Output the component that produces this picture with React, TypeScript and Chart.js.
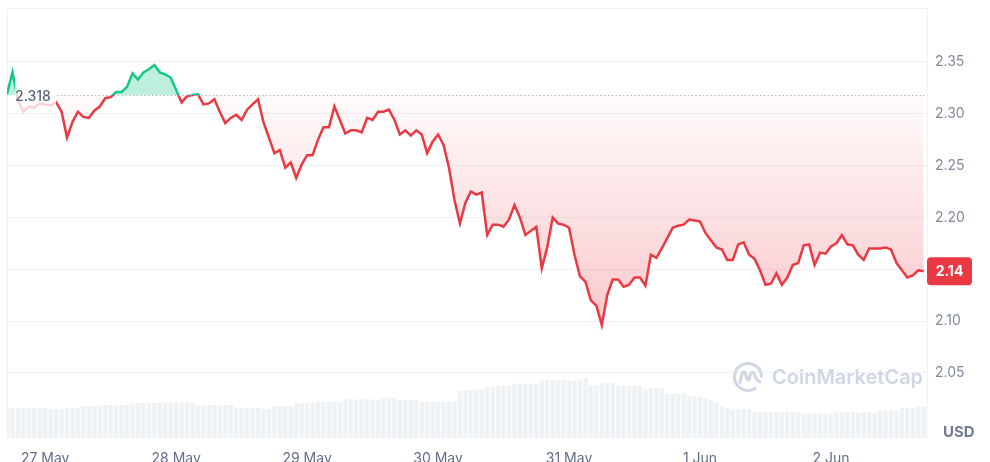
import { useEffect, useRef } from "react";
import { Chart, registerables } from "chart.js";

Chart.register(...registerables);

// ---- data ----
const DAY_LABELS = ["27 May", "28 May", "29 May", "30 May", "31 May", "1 Jun", "2 Jun"];
// hours since 26 May 17:00 at which each day starts
const DAY_TICK_HOURS = [7, 31, 55, 79, 103, 127, 151];
const PRICE_TICKS = [2.05, 2.1, 2.15, 2.2, 2.25, 2.3, 2.35];
const OPEN_PRICE = 2.318;
const LAST_PRICE_LABEL = "2.14";
const CURRENCY = "USD";
const WATERMARK = "CoinMarketCap";

// hourly price (USD)
const PRICE = [
  2.319, 2.340, 2.313, 2.302, 2.307, 2.306, 2.310, 2.309, 2.308, 2.311,
  2.302, 2.277, 2.292, 2.302, 2.297, 2.296, 2.303, 2.307, 2.315, 2.316,
  2.321, 2.321, 2.326, 2.339, 2.333, 2.340, 2.343, 2.347, 2.340, 2.338,
  2.335, 2.323, 2.311, 2.317, 2.318, 2.319, 2.309, 2.310, 2.314, 2.302,
  2.291, 2.296, 2.299, 2.294, 2.304, 2.309, 2.314, 2.292, 2.277, 2.262,
  2.265, 2.248, 2.253, 2.238, 2.251, 2.260, 2.260, 2.275, 2.287, 2.287,
  2.307, 2.294, 2.281, 2.284, 2.284, 2.282, 2.296, 2.294, 2.302, 2.302,
  2.304, 2.294, 2.280, 2.284, 2.279, 2.284, 2.280, 2.262, 2.273, 2.280,
  2.270, 2.248, 2.217, 2.194, 2.214, 2.225, 2.222, 2.224, 2.183, 2.193,
  2.193, 2.191, 2.198, 2.212, 2.200, 2.183, 2.187, 2.191, 2.151, 2.171,
  2.200, 2.194, 2.193, 2.190, 2.164, 2.143, 2.138, 2.120, 2.115, 2.096,
  2.125, 2.140, 2.140, 2.133, 2.135, 2.142, 2.142, 2.134, 2.164, 2.161,
  2.170, 2.180, 2.190, 2.192, 2.193, 2.198, 2.197, 2.196, 2.185, 2.178,
  2.171, 2.169, 2.159, 2.159, 2.174, 2.176, 2.164, 2.160, 2.149, 2.135,
  2.136, 2.146, 2.135, 2.142, 2.154, 2.156, 2.173, 2.174, 2.154, 2.166,
  2.165, 2.172, 2.175, 2.183, 2.174, 2.173, 2.164, 2.159, 2.170, 2.170,
  2.170, 2.171, 2.169, 2.156, 2.149, 2.142, 2.144, 2.149, 2.148,
];

// hourly 24h volume (millions USD)
const VOLUME_M = [
  300, 300, 300, 300, 300, 300, 300, 300, 290, 290,
  290, 300, 300, 300, 320, 320, 320, 320, 330, 330,
  330, 330, 330, 350, 350, 350, 350, 350, 350, 350,
  355, 355, 355, 355, 355, 330, 330, 330, 330, 330,
  330, 330, 300, 300, 300, 300, 300, 290, 290, 320,
  320, 320, 320, 347, 347, 347, 347, 363, 363, 363,
  363, 363, 387, 387, 387, 387, 387, 387, 387, 403,
  403, 403, 380, 380, 380, 380, 363, 363, 363, 363,
  363, 363, 363, 470, 480, 480, 480, 490, 510, 510,
  520, 520, 520, 543, 543, 543, 543, 543, 577, 577,
  577, 577, 577, 577, 577, 577, 603, 530, 530, 553,
  553, 553, 520, 520, 520, 520, 520, 497, 497, 497,
  497, 443, 443, 443, 443, 425, 420, 415, 400, 380,
  350, 320, 300, 287, 287, 287, 287, 263, 263, 263,
  263, 263, 257, 257, 257, 257, 247, 247, 247, 247,
  247, 247, 257, 257, 257, 257, 257, 257, 257, 257,
  275, 275, 275, 275, 300, 300, 300, 315, 315,
];

const GREEN = "#16c784";
const RED = "#ea3943";
const GRID = "#eff2f5";

export default function App() {
  const ref = useRef<HTMLCanvasElement | null>(null);

  useEffect(() => {
    if (!ref.current) return;
    Chart.defaults.font.family = "Inter, 'Noto Sans', sans-serif";

    const overlay = {
      id: "cmcOverlay",
      beforeDatasetsDraw(chart: any) {
        const { ctx, chartArea: a } = chart;
        ctx.save();
        // left & top frame
        ctx.strokeStyle = GRID;
        ctx.lineWidth = 1;
        ctx.beginPath();
        ctx.moveTo(a.left + 0.5, a.bottom);
        ctx.lineTo(a.left + 0.5, a.top + 0.5);
        ctx.lineTo(a.right, a.top + 0.5);
        ctx.stroke();
        // watermark
        const cx = a.right - 179;
        const cy = chart.scales.y.getPixelForValue(2.046);
        ctx.strokeStyle = "#cfd6e4";
        ctx.lineWidth = 3;
        ctx.lineCap = "round";
        ctx.lineJoin = "round";
        ctx.beginPath();
        ctx.arc(cx, cy, 13.5, 0.32 * Math.PI, 1.98 * Math.PI);
        ctx.stroke();
        ctx.beginPath();
        ctx.moveTo(cx - 8, cy + 6);
        ctx.quadraticCurveTo(cx - 6, cy - 7, cx - 3, cy - 5);
        ctx.quadraticCurveTo(cx - 1, cy + 4, cx + 1, cy + 3);
        ctx.quadraticCurveTo(cx + 3, cy - 7, cx + 6, cy - 4);
        ctx.quadraticCurveTo(cx + 8, cy + 4, cx + 12, cy + 5);
        ctx.stroke();
        ctx.fillStyle = "#cfd6e4";
        ctx.font = "600 20px Inter, 'Noto Sans', sans-serif";
        ctx.textAlign = "left";
        ctx.textBaseline = "middle";
        ctx.fillText(WATERMARK, cx + 24, cy + 1);
        ctx.restore();
      },
      afterDatasetsDraw(chart: any) {
        const { ctx, chartArea: a } = chart;
        const yb = chart.scales.y.getPixelForValue(OPEN_PRICE);
        ctx.save();
        // dotted open-price line
        ctx.strokeStyle = "#a3acbd";
        ctx.lineWidth = 1.2;
        ctx.setLineDash([1.2, 2.6]);
        ctx.beginPath();
        ctx.moveTo(a.left + 50, Math.round(yb) + 0.5);
        ctx.lineTo(a.right, Math.round(yb) + 0.5);
        ctx.stroke();
        ctx.setLineDash([]);
        // label
        ctx.fillStyle = "rgba(255,255,255,0.78)";
        ctx.fillRect(a.left + 8, yb - 13, 41, 31);
        ctx.fillStyle = "#58667e";
        ctx.font = "500 14px Inter, 'Noto Sans', sans-serif";
        ctx.textAlign = "left";
        ctx.textBaseline = "middle";
        ctx.fillText(OPEN_PRICE.toFixed(3), a.left + 8, yb + 2);
        ctx.restore();
      },
      afterDraw(chart: any) {
        const { ctx, chartArea: a } = chart;
        const last = PRICE[PRICE.length - 1];
        const yl = chart.scales.y.getPixelForValue(last);
        ctx.save();
        const bx = a.right, bw = 45, bh = 28, by = yl - bh / 2;
        ctx.fillStyle = RED;
        ctx.beginPath();
        (ctx as any).roundRect(bx, by, bw, bh, 4);
        ctx.fill();
        ctx.fillStyle = "#ffffff";
        ctx.font = "700 14px Inter, 'Noto Sans', sans-serif";
        ctx.textAlign = "center";
        ctx.textBaseline = "middle";
        ctx.fillText(LAST_PRICE_LABEL, bx + bw / 2, yl + 1);
        // currency
        ctx.fillStyle = "#6f7b91";
        ctx.font = "700 15px Inter, 'Noto Sans', sans-serif";
        ctx.textAlign = "left";
        ctx.fillText(CURRENCY, a.right + 16, a.bottom - 6);
        ctx.restore();
      },
    };

    const chart = new Chart(ref.current, {
      type: "line",
      data: {
        datasets: [
          {
            type: "line",
            data: PRICE.map((p, i) => ({ x: i, y: p })),
            yAxisID: "y",
            borderWidth: 2.5,
            pointRadius: 0,
            tension: 0,
            order: 0,
            borderColor: (c: any) => {
              const ch = c.chart;
              const a = ch.chartArea;
              if (!a || !ch.scales.y) return RED;
              const yb = ch.scales.y.getPixelForValue(OPEN_PRICE);
              const f = Math.min(Math.max((yb - a.top) / (a.bottom - a.top), 0), 1);
              const g = ch.ctx.createLinearGradient(0, a.top, 0, a.bottom);
              g.addColorStop(0, GREEN);
              g.addColorStop(f, GREEN);
              g.addColorStop(f, RED);
              g.addColorStop(1, RED);
              return g;
            },
            backgroundColor: (c: any) => {
              const ch = c.chart;
              const a = ch.chartArea;
              if (!a || !ch.scales.y) return "rgba(234,57,67,0.1)";
              const y1 = ch.scales.y.getPixelForValue(OPEN_PRICE);
              const y2 = ch.scales.y.getPixelForValue(2.09);
              const g = ch.ctx.createLinearGradient(0, y1, 0, y2);
              g.addColorStop(0, "rgba(234,57,67,0.02)");
              g.addColorStop(1, "rgba(234,57,67,0.28)");
              return g;
            },
            fill: { target: { value: OPEN_PRICE }, above: "rgba(22,199,132,0.28)" },
          } as any,
          {
            type: "bar",
            data: VOLUME_M.map((v, i) => ({ x: i, y: v })),
            yAxisID: "yVol",
            backgroundColor: "#eff2f5",
            barPercentage: 0.82,
            categoryPercentage: 1,
            order: 1,
          } as any,
        ],
      },
      options: {
        animation: false,
        responsive: true,
        maintainAspectRatio: false,
        layout: { padding: { left: 7, top: 8, right: 0, bottom: 0 } },
        plugins: { legend: { display: false }, tooltip: { enabled: false } },
        scales: {
          x: {
            type: "linear",
            min: 0,
            max: 168.6,
            offset: false,
            grid: { display: false, offset: false, drawTicks: false },
            border: { display: false },
            afterBuildTicks: (s: any) => {
              s.ticks = DAY_TICK_HOURS.map((v) => ({ value: v }));
            },
            afterFit: (s: any) => {
              s.height = 24;
              s.paddingLeft = 0;
              s.paddingRight = 0;
            },
            ticks: {
              autoSkip: false,
              maxRotation: 0,
              padding: 12,
              color: "#616e85",
              font: { size: 14 },
              callback: (_v: any, i: number) => DAY_LABELS[i],
            },
          },
          y: {
            position: "right",
            min: 1.9871,
            max: 2.4021,
            afterBuildTicks: (s: any) => {
              s.ticks = PRICE_TICKS.map((v) => ({ value: v }));
            },
            afterFit: (s: any) => {
              s.width = 63;
              s.paddingTop = 0;
              s.paddingBottom = 0;
            },
            grid: { color: GRID, drawTicks: false },
            border: { display: true, color: GRID },
            ticks: {
              padding: 8,
              color: "#808a9d",
              font: { size: 14 },
              callback: (v: any) => Number(v).toFixed(2),
            },
          },
          yVol: {
            display: false,
            min: 0,
            max: 4300,
          },
        },
      } as any,
      plugins: [overlay],
    });

    return () => chart.destroy();
  }, []);

  return (
    <div style={{ position: "absolute", left: 0, top: 0, width: 990, height: 462, background: "#fff" }}>
      <canvas ref={ref} />
    </div>
  );
}
